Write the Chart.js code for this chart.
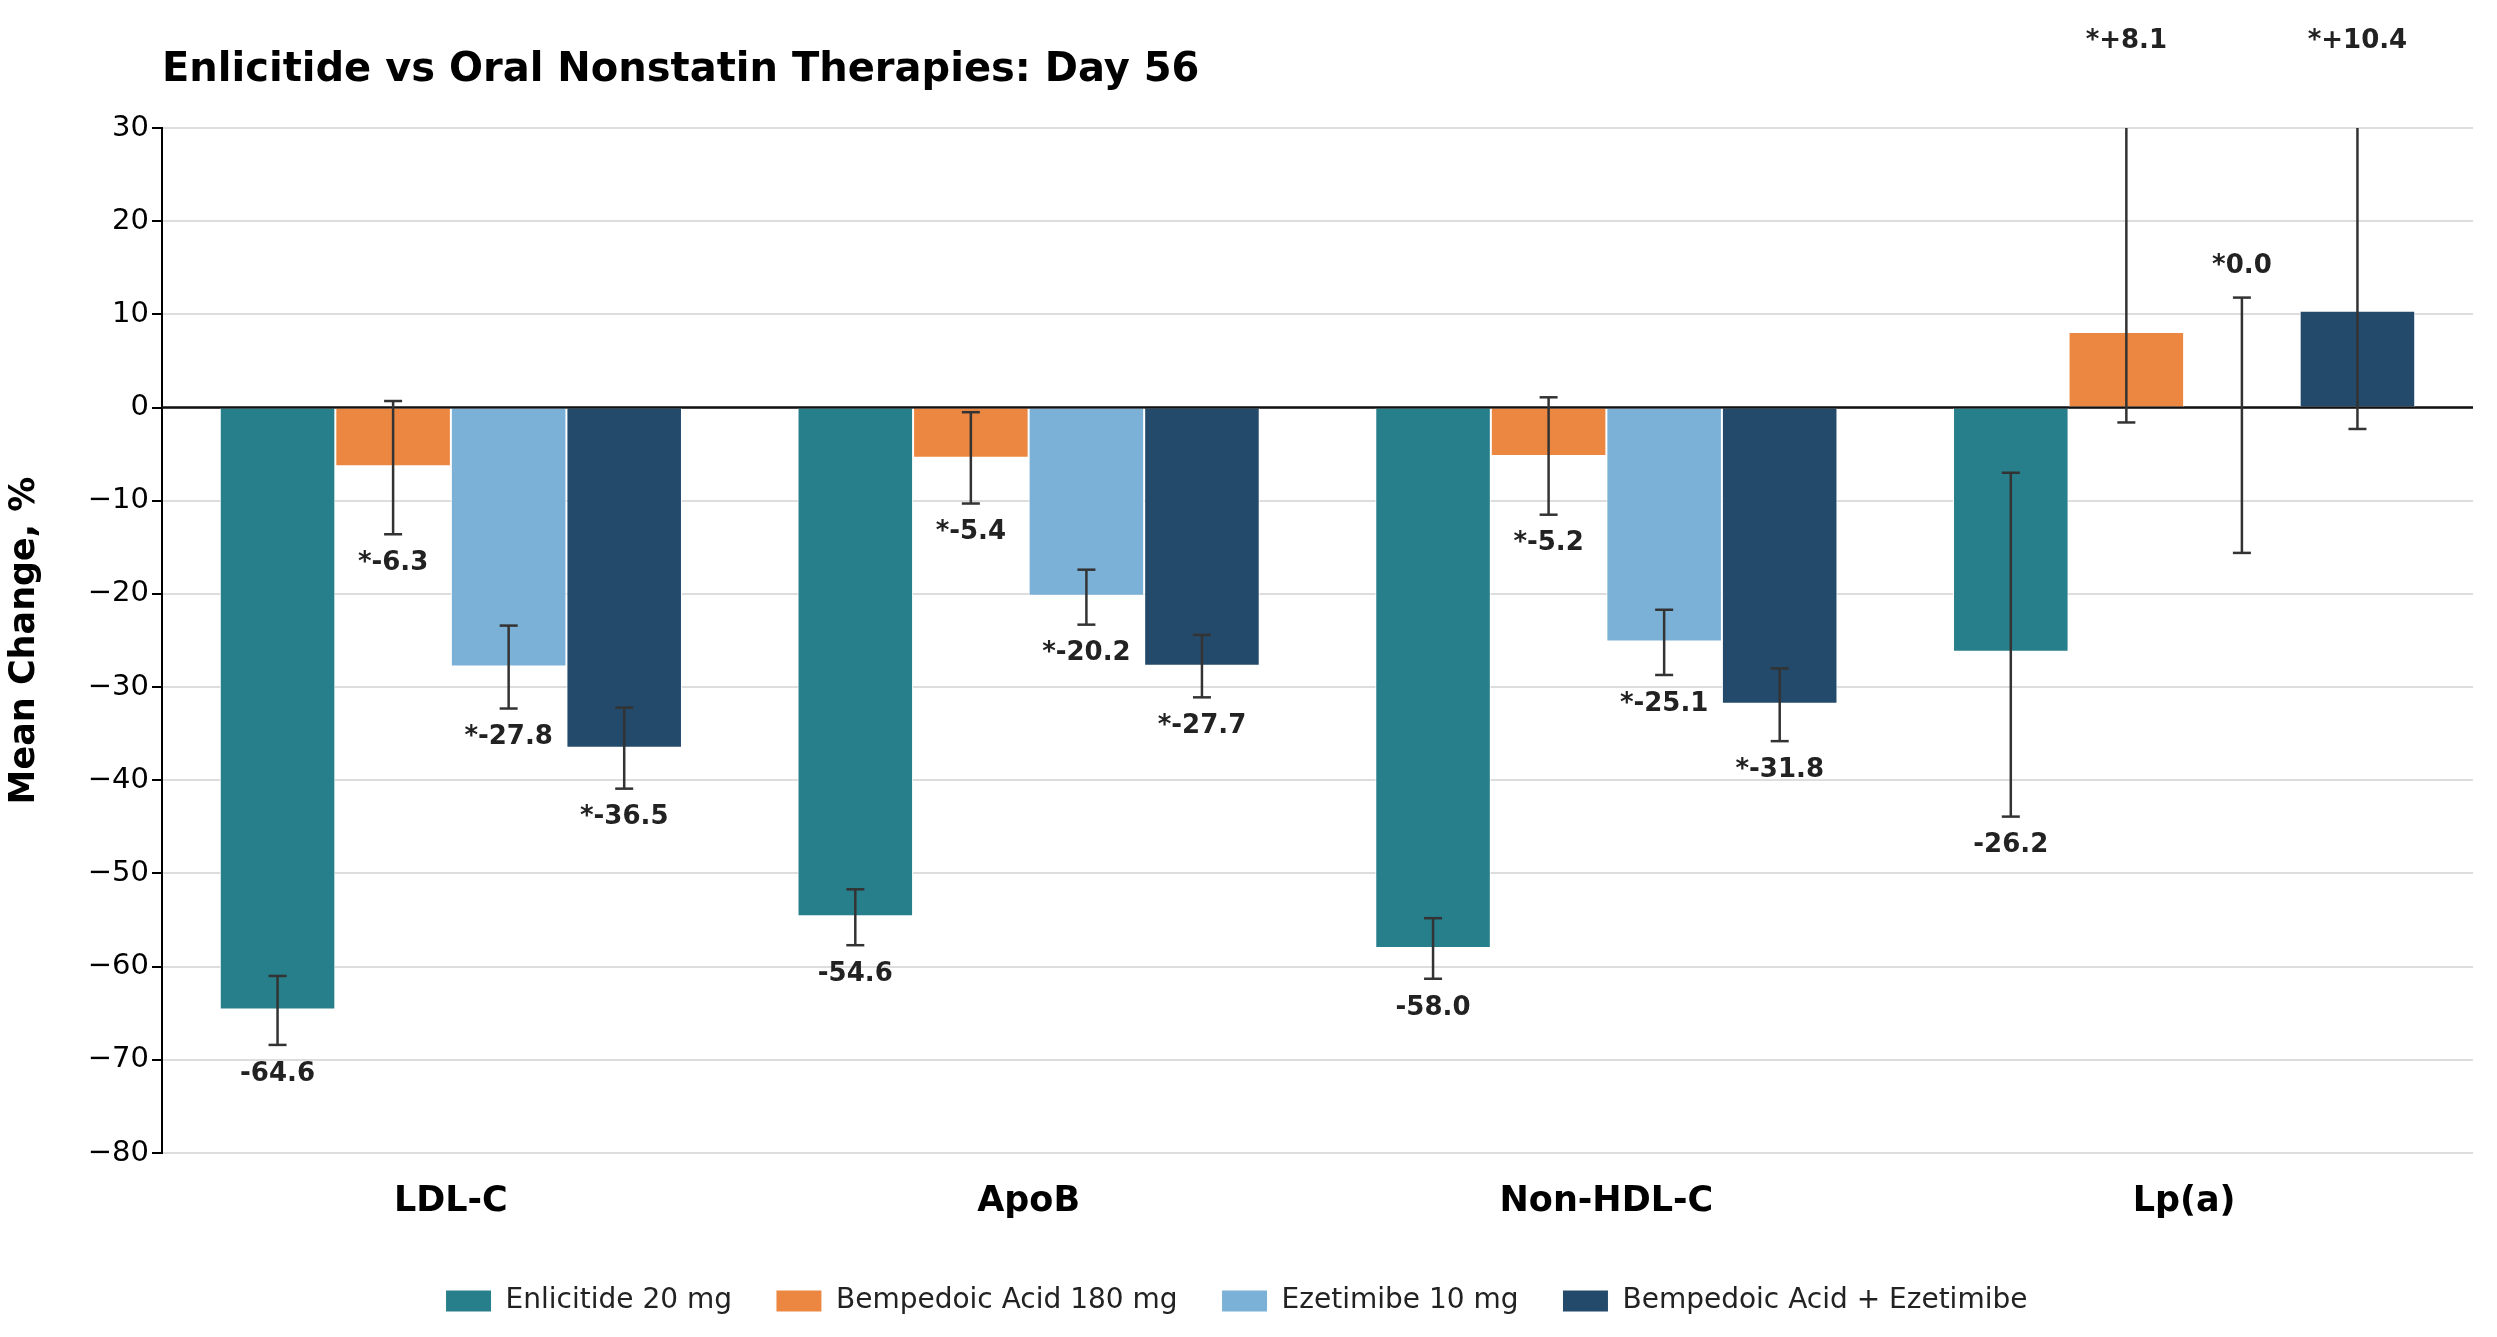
<!DOCTYPE html>
<html><head><meta charset="utf-8">
<script src="https://cdn.jsdelivr.net/npm/chart.js@4"></script>
<style>body{margin:0;background:#fff}#wrap{width:2497px;height:1337px}</style>
</head><body><div id="wrap"><canvas id="c"></canvas></div>
<script>
const categories = ['LDL-C', 'ApoB', 'Non-HDL-C', 'Lp(a)'];
const seriesNames = ['Enlicitide 20 mg', 'Bempedoic Acid 180 mg', 'Ezetimibe 10 mg', 'Bempedoic Acid + Ezetimibe'];
const colors = ['#267F8A', '#EC8742', '#7BB1D6', '#234A6B'];
const enlicitide = [-64.6, -54.6, -58.0, -26.2];
const bempedoic = [-6.3, -5.4, -5.2, 8.1];
const ezetimibe = [-27.8, -20.2, -25.1, 0.0];
const combo = [-36.5, -27.7, -31.8, 10.4];
const errLow = [[-68.4, -57.7, -61.3, -43.9], [-13.6, -10.3, -11.5, -1.6], [-32.3, -23.3, -28.7, -15.6], [-40.9, -31.1, -35.8, -2.3]];
const errHigh = [[-61.0, -51.7, -54.8, -7.0], [0.7, -0.5, 1.1, 36], [-23.4, -17.4, -21.7, 11.8], [-32.2, -24.4, -28.0, 36]];
const labels = [['-64.6', '-54.6', '-58.0', '-26.2'], ['*-6.3', '*-5.4', '*-5.2', '*+8.1'], ['*-27.8', '*-20.2', '*-25.1', '*0.0'], ['*-36.5', '*-27.7', '*-31.8', '*+10.4']];
const yTicks = [30, 20, 10, 0, -10, -20, -30, -40, -50, -60, -70, -80];
const values = [enlicitide, bempedoic, ezetimibe, combo];

const extras = {
  id: 'extras',
  beforeDatasetsDraw(chart) {
    const { ctx, chartArea: a, scales: { y } } = chart;
    ctx.save();
    ctx.strokeStyle = '#111'; ctx.lineWidth = 2.5;
    ctx.beginPath(); ctx.moveTo(a.left, y.getPixelForValue(0)); ctx.lineTo(a.right, y.getPixelForValue(0)); ctx.stroke();
    ctx.restore();
  },
  afterDatasetsDraw(chart) {
    const { ctx, chartArea: a, scales: { y } } = chart;
    ctx.save();
    ctx.fillStyle = '#000'; ctx.font = 'bold 40px "DejaVu Sans"'; ctx.textAlign = 'left'; ctx.textBaseline = 'middle';
    ctx.fillText('Enlicitide vs Oral Nonstatin Therapies: Day 56', a.left, 71);
    ctx.strokeStyle = '#333'; ctx.lineWidth = 2.5;
    ctx.fillStyle = '#222'; ctx.font = 'bold 26px "DejaVu Sans"'; ctx.textAlign = 'center';
    values.forEach((vals, d) => {
      const meta = chart.getDatasetMeta(d);
      meta.data.forEach((bar, i) => {
        const x = bar.x;
        const lo = y.getPixelForValue(errLow[d][i]);
        const hiRaw = y.getPixelForValue(errHigh[d][i]);
        const hi = Math.max(hiRaw, a.top);
        ctx.beginPath(); ctx.moveTo(x, lo); ctx.lineTo(x, hi); ctx.stroke();
        ctx.beginPath(); ctx.moveTo(x - 9, lo); ctx.lineTo(x + 9, lo); ctx.stroke();
        if (hiRaw >= a.top) { ctx.beginPath(); ctx.moveTo(x - 9, hi); ctx.lineTo(x + 9, hi); ctx.stroke(); }
        if (vals[i] < 0) {
          ctx.textBaseline = 'top'; ctx.fillText(labels[d][i], x, lo + 16);
        } else {
          ctx.textBaseline = 'bottom'; ctx.fillText(labels[d][i], x, (hiRaw < a.top ? hiRaw : hi) - 18);
        }
      });
    });
    ctx.restore();
  }
};

new Chart(document.getElementById('c'), {
  type: 'bar',
  data: {
    labels: categories,
    datasets: seriesNames.map((n, d) => ({
      label: n, data: values[d], backgroundColor: colors[d],
      borderColor: '#fff', borderWidth: 1,
      categoryPercentage: 0.8, barPercentage: 1.0
    }))
  },
  options: {
    responsive: true, maintainAspectRatio: false, animation: false,
    layout: { padding: { top: 128, right: 24, left: 0, bottom: 12 } },
    plugins: {
      title: { display: false },
      legend: { position: 'bottom', labels: { color: '#222', font: { family: 'DejaVu Sans', size: 28 },
        boxWidth: 46, boxHeight: 22, padding: 44 } },
      tooltip: { enabled: false }
    },
    scales: {
      x: {
        grid: { display: false }, border: { display: false },
        ticks: { color: '#000', font: { family: 'DejaVu Sans', size: 35, weight: 'bold' }, padding: 20 }
      },
      y: {
        min: -80, max: 30,
        afterFit: s => { s.width = 162; },
        afterBuildTicks: s => { s.ticks = yTicks.map(v => ({ value: v })); },
        grid: { color: '#dddddd', lineWidth: 2, drawTicks: true, tickLength: 10, tickColor: '#000' },
        border: { display: true, color: '#000', width: 2 },
        ticks: { color: '#000', font: { family: 'DejaVu Sans', size: 29 }, callback: v => v < 0 ? '\u2212' + Math.abs(v) : v },
        title: { display: true, text: 'Mean Change, %', color: '#000', font: { family: 'DejaVu Sans', size: 35, weight: 'bold' } }
      }
    }
  },
  plugins: [extras]
});
</script></body></html>
